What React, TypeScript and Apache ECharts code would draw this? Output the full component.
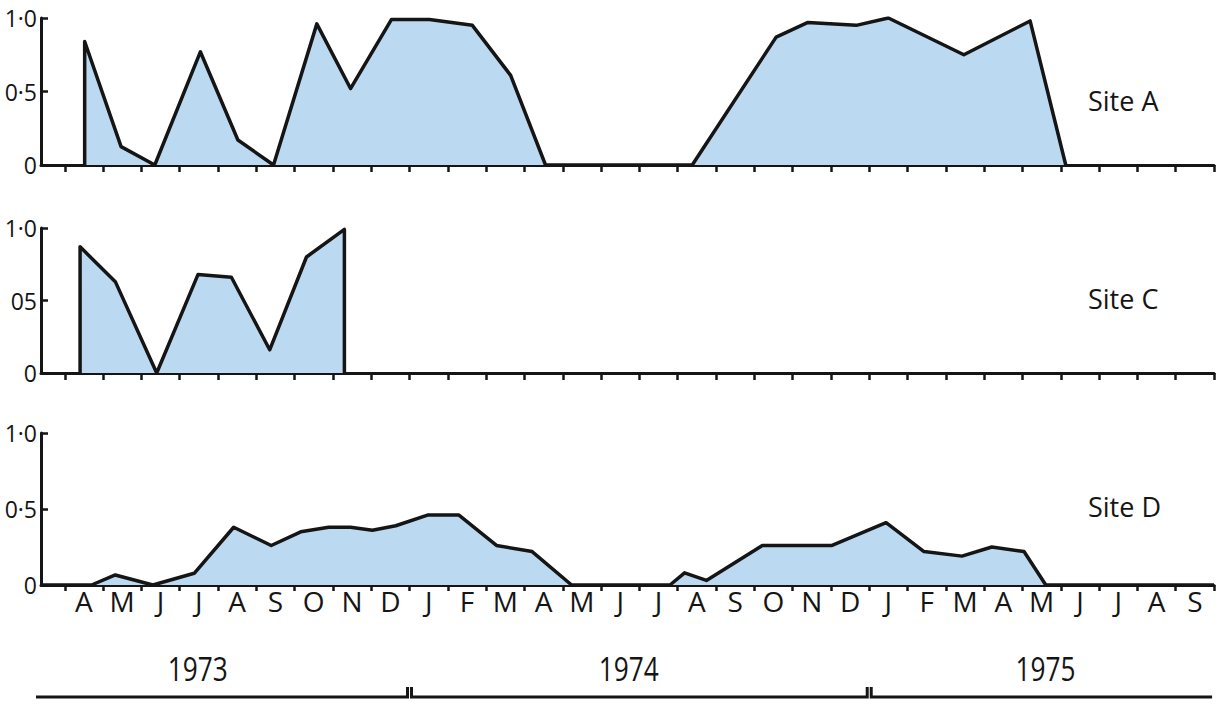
import React, { useEffect, useRef } from 'react';
import * as echarts from 'echarts';

// Month labels (Apr 1973 .. Sep 1975), one per month interval
const monthLabels = ['A','M','J','J','A','S','O','N','D','J','F','M','A','M','J','J','A','S','O','N','D','J','F','M','A','M','J','J','A','S'];

// Y tick labels per panel (value 0, 0.5, 1.0)
const yLabelsA = ['0', '0·5', '1·0'];
const yLabelsC = ['0', '05', '1·0'];
const yLabelsD = ['0', '0·5', '1·0'];

const siteNames = ['Site A', 'Site C', 'Site D'];

// x in months since 1 April 1973
const siteAMonths = [0.52, 0.52, 1.47, 2.35, 3.54, 4.52, 5.45, 6.58, 7.46, 8.53, 9.52, 10.64, 11.64, 12.55, 16.38, 18.57, 19.4, 20.66, 21.5, 23.47, 25.2, 26.13];
const siteAValues = [0, 0.84, 0.125, 0, 0.77, 0.17, 0, 0.96, 0.52, 0.99, 0.99, 0.95, 0.61, 0, 0, 0.87, 0.97, 0.95, 1.0, 0.75, 0.98, 0];

const siteCMonths = [0.4, 0.4, 1.32, 2.4, 3.48, 4.35, 5.35, 6.31, 7.3, 7.3];
const siteCValues = [0, 0.87, 0.63, 0, 0.68, 0.66, 0.16, 0.8, 0.99, 0];

const siteDMonths = [-0.62, 0.7, 1.32, 2.3, 3.38, 4.41, 5.39, 6.16, 6.89, 7.46, 8.03, 8.64, 9.47, 10.29, 11.27, 12.2, 13.23, 15.8, 16.18, 16.75, 18.21, 20.03, 21.44, 22.43, 23.42, 24.2, 25.04, 25.61, 30];
const siteDValues = [0, 0, 0.066, 0, 0.077, 0.38, 0.26, 0.35, 0.38, 0.38, 0.36, 0.39, 0.46, 0.46, 0.26, 0.22, 0, 0, 0.08, 0.03, 0.26, 0.26, 0.41, 0.22, 0.19, 0.25, 0.22, 0, 0];

// Year brackets
const years = ['1973', '1974', '1975'];
const yearStarts = [-0.75, 9, 21];
const yearEnds = [9, 21, 29.95];
const yearLabelAt = [3.47, 14.72, 25.6];

const X_MIN = -0.62;
const X_MAX = 30;

const tickValues = monthLabels.map((_, i) => i).concat([monthLabels.length]);
const labelValues = monthLabels.map((_, i) => i + 0.5);

const INK = '#151515';
const FILL = '#bcd9f2';
const FONT = '"Open Sans", "DejaVu Sans", sans-serif';

export default function App() {
  const ref = useRef<HTMLDivElement>(null);
  useEffect(() => {
    if (!ref.current) return;
    const chart = echarts.init(ref.current, null, { renderer: 'svg' });

    const panels = [
      { top: 18, height: 147, labels: yLabelsA, months: siteAMonths, values: siteAValues, tickLen: 7 },
      { top: 228, height: 145, labels: yLabelsC, months: siteCMonths, values: siteCValues, tickLen: 7 },
      { top: 433, height: 152, labels: yLabelsD, months: siteDMonths, values: siteDValues, tickLen: 6 },
    ];

    const grid: any[] = panels.map((p) => ({ left: 41, right: 13, top: p.top, height: p.height, containLabel: false }));
    grid.push({ left: 41, right: 13, top: 640, height: 57, containLabel: false });

    const xAxis: any[] = panels.map((p, i) => ({
      type: 'value',
      gridIndex: i,
      min: X_MIN,
      max: X_MAX,
      axisLine: { show: true, onZero: false, lineStyle: { color: INK, width: 3 } },
      axisTick: { show: true, customValues: tickValues, length: p.tickLen, lineStyle: { color: INK, width: 2.5 } },
      axisLabel: {
        show: i === 2,
        customValues: labelValues,
        formatter: (v: number) => monthLabels[Math.floor(v)] ?? '',
        color: INK,
        fontFamily: FONT,
        fontSize: 28,
        margin: 2,
      },
      splitLine: { show: false },
    }));
    xAxis.push({ type: 'value', gridIndex: 3, min: X_MIN, max: X_MAX, show: false });

    const yAxis: any[] = panels.map((p, i) => ({
      type: 'value',
      gridIndex: i,
      min: 0,
      max: 1,
      interval: 0.5,
      axisLine: { show: true, onZero: false, lineStyle: { color: INK, width: 3 } },
      axisTick: { show: true, inside: true, length: 7, lineStyle: { color: INK, width: 2.5 } },
      axisLabel: {
        formatter: (v: number) => p.labels[Math.round(v * 2)] ?? '',
        color: INK,
        fontFamily: FONT,
        fontSize: 23,
        margin: 4,
      },
      splitLine: { show: false },
    }));
    yAxis.push({ type: 'value', gridIndex: 3, min: 0, max: 1, show: false });

    const series: any[] = panels.map((p, i) => ({
      type: 'line',
      name: siteNames[i],
      xAxisIndex: i,
      yAxisIndex: i,
      data: p.months.map((m, k) => [m, p.values[k]]),
      symbol: 'none',
      lineStyle: { color: INK, width: 3.5, join: 'round' },
      areaStyle: { color: FILL, opacity: 1 },
      z: 3,
    }));

    series.push({
      type: 'custom',
      xAxisIndex: 3,
      yAxisIndex: 3,
      clip: false,
      data: years.map((_, i) => [yearStarts[i], yearEnds[i], yearLabelAt[i]]),
      renderItem: (params: any, api: any) => {
        const i = params.dataIndex;
        const n = years.length;
        const s = api.coord([api.value(0), 0]);
        const e = api.coord([api.value(1), 0]);
        const l = api.coord([api.value(2), 0.5]);
        const gap = 2;
        const up = 10;
        const x0 = i > 0 ? s[0] + gap : s[0];
        const x1 = i < n - 1 ? e[0] - gap : e[0];
        const pts: number[][] = [];
        if (i > 0) pts.push([x0, s[1] - up]);
        pts.push([x0, s[1]]);
        pts.push([x1, e[1]]);
        if (i < n - 1) pts.push([x1, e[1] - up]);
        return {
          type: 'group',
          children: [
            { type: 'polyline', shape: { points: pts }, style: { stroke: INK, lineWidth: 3, fill: null } },
            {
              type: 'text',
              x: l[0],
              y: l[1],
              scaleX: 0.82,
              style: { text: years[i], fill: INK, fontFamily: FONT, fontSize: 32, align: 'center', verticalAlign: 'middle' },
            },
          ],
        };
      },
    });

    const siteY = [100, 298, 506];
    const graphic = siteNames.map((name, i) => ({
      type: 'text',
      x: 1088,
      y: siteY[i],
      style: { text: name, fill: INK, fontFamily: FONT, fontSize: 27, verticalAlign: 'middle' },
    }));

    chart.setOption({
      animation: false,
      backgroundColor: '#fff',
      grid,
      xAxis,
      yAxis,
      series,
      graphic,
    });

    return () => chart.dispose();
  }, []);

  return <div ref={ref} style={{ position: 'fixed', left: 0, top: 0, width: 1227, height: 705, background: '#fff' }} />;
}
